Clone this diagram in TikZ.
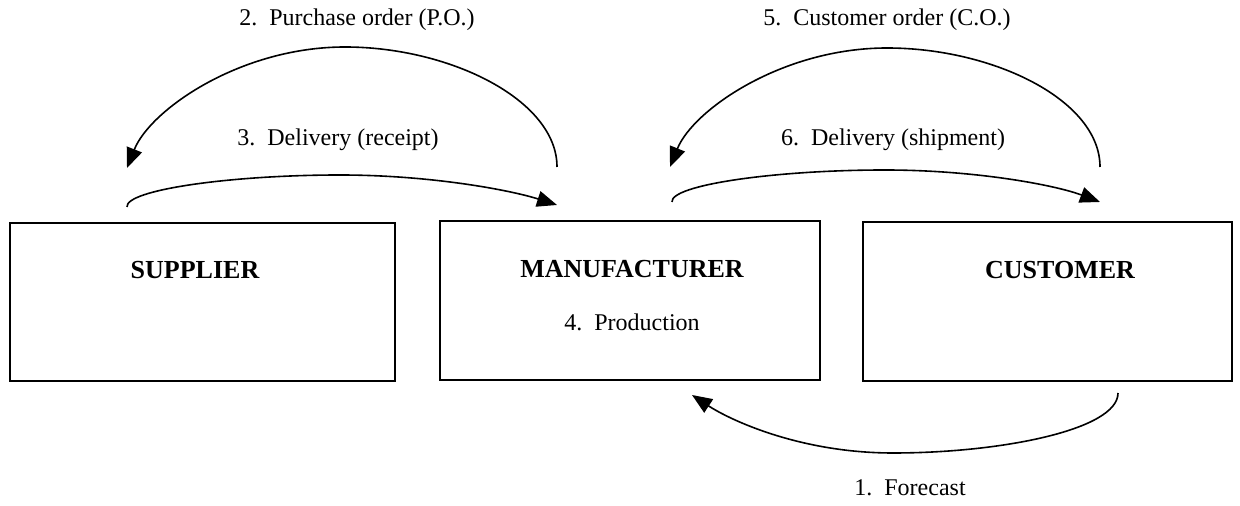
\documentclass[tikz,border=0pt]{standalone}
\usepackage{fontspec}
\setmainfont{Liberation Serif}
\usetikzlibrary{arrows.meta}

\tikzset{
  unitbox/.style={draw, line width=1pt, inner sep=0pt},
  unitname/.style={font=\fontsize{13}{15}\selectfont\bfseries, inner sep=1pt},
  flowtext/.style={font=\fontsize{12}{14}\selectfont, inner sep=1pt},
  flowline/.style={line width=0.8pt, -{Triangle[length=10pt,width=8pt]}}
}

\begin{document}
\begin{tikzpicture}[x=0.5pt,y=0.5pt,yscale=-1,xscale=1]
\useasboundingbox (0,0) rectangle (1240,506);

%Shape: Rectangle [id:supplier] 
\node[unitbox, minimum width=192.5pt, minimum height=79pt] (sup) at (202.5,302) {};
%Shape: Rectangle [id:manufacturer] 
\node[unitbox, minimum width=190pt, minimum height=79.5pt] (man) at (630,300.5) {};
%Shape: Rectangle [id:customer] 
\node[unitbox, minimum width=184.5pt, minimum height=79.5pt] (cus) at (1047.5,301.5) {};

% Text Node
\node[unitname] (supname) at (195,270) {SUPPLIER};
% Text Node
\node[unitname] (manname) at (632,269) {MANUFACTURER};
% Text Node
\node[unitname] (cusname) at (1060,270) {CUSTOMER};
% Text Node
\node[flowtext] (prod) at (632,322) {4.\ \ Production};

%Curve end points
\coordinate (po0) at (557,167);
\coordinate (po1) at (127,168);
\coordinate (rc0) at (127,207);
\coordinate (rc1) at (557,205);
\coordinate (co0) at (1100,167);
\coordinate (co1) at (670,167);
\coordinate (sh0) at (672,202);
\coordinate (sh1) at (1100,202);
\coordinate (fc0) at (1118,393);
\coordinate (fc1) at (692,395);

%Curve Lines [id:purchase] 
\draw[flowline] (po0) .. controls (557,100) and (450,47) .. (345,47) .. controls (240,47) and (150,110) .. (po1);
%Curve Lines [id:receipt] 
\draw[flowline] (rc0) .. controls (125,190) and (230,175) .. (340,175) .. controls (430,175) and (510,190) .. (rc1);
%Curve Lines [id:custorder] 
\draw[flowline] (co0) .. controls (1100,100) and (993,48) .. (887,48) .. controls (782,48) and (693,110) .. (co1);
%Curve Lines [id:shipment] 
\draw[flowline] (sh0) .. controls (670,185) and (775,170) .. (885,170) .. controls (975,170) and (1055,185) .. (sh1);
%Curve Lines [id:forecast] 
\draw[flowline] (fc0) .. controls (1118,430) and (1000,453) .. (893,453) .. controls (800,453) and (730,420) .. (fc1);

% Text Node
\node[flowtext] (potxt) at (357,20) {2.\ \ Purchase order (P.O.)};
% Text Node
\node[flowtext] (rctxt) at (338,140) {3.\ \ Delivery (receipt)};
% Text Node
\node[flowtext] (cotxt) at (887,20) {5.\ \ Customer order (C.O.)};
% Text Node
\node[flowtext] (shtxt) at (893,140) {6.\ \ Delivery (shipment)};
% Text Node
\node[flowtext] (fctxt) at (910,488) {1.\ \ Forecast};

\end{tikzpicture}
\end{document}
